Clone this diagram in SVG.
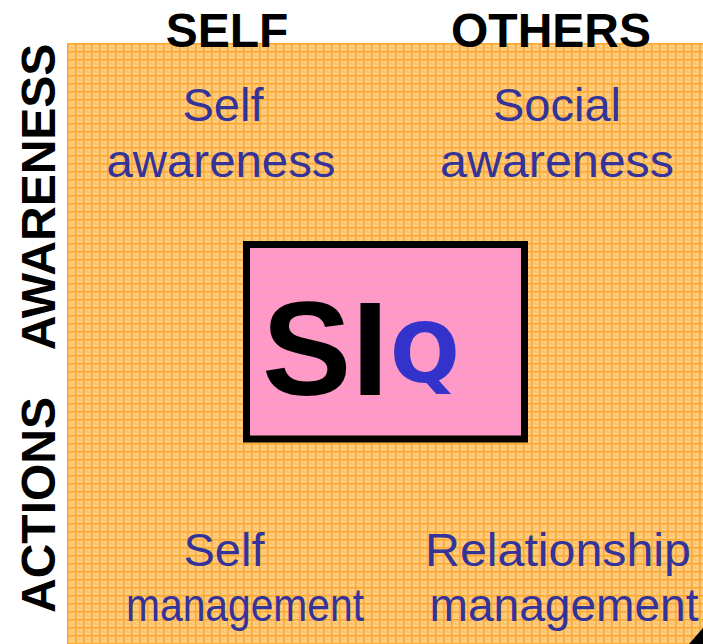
<svg xmlns="http://www.w3.org/2000/svg" width="703" height="644" viewBox="0 0 703 644">
  <defs>
    <!-- woven orange grid used for the quadrant panel -->
    <pattern id="weave" x="67" y="43" width="8" height="8" patternUnits="userSpaceOnUse">
      <rect width="8" height="8" fill="#FFCA78"/>
      <rect x="0" y="0" width="8" height="1.6" fill="#FFA830"/>
      <rect x="0" y="0" width="1.6" height="8" fill="#FFA830"/>
      <rect x="4" y="4" width="1" height="1" fill="#FFB850"/>
      <rect x="5" y="2" width="1" height="1" fill="#FFD898"/>
      <rect x="3" y="6" width="1" height="1" fill="#FFD898"/>
    </pattern>
    <!-- same weave, tinted pink for the centre card -->
    <pattern id="weavePink" x="67" y="43" width="8" height="8" patternUnits="userSpaceOnUse">
      <rect width="8" height="8" fill="#FF99CC"/>
      <rect x="0" y="0" width="8" height="1" fill="#F8A2B0"/>
      <rect x="0" y="0" width="1" height="8" fill="#F8A2B0"/>
    </pattern>
    <style>
      .head { font-family: "Liberation Sans", Arial, sans-serif; font-weight: bold; fill: #000; font-size: 48px; }
      .quad { font-family: "Liberation Sans", Arial, sans-serif; fill: #333399; font-size: 47px; text-anchor: middle; }
    </style>
  </defs>

  <rect width="703" height="644" fill="#FFFFFF"/>

  <!-- quadrant panel -->
  <g id="panel">
    <rect x="67" y="43" width="636" height="601" fill="url(#weave)"/>
    <polygon points="689,644 703,628 703,644" fill="#000"/>
  </g>

  <!-- column and row headings -->
  <g id="heading-self"><text class="head" x="227" y="47" text-anchor="middle">SELF</text></g>
  <g id="heading-others"><text class="head" x="551" y="47" text-anchor="middle">OTHERS</text></g>
  <g id="heading-awareness"><text class="head" font-size="46" transform="translate(55,197) rotate(-90)" text-anchor="middle">AWARENESS</text></g>
  <g id="heading-actions"><text class="head" font-size="47" transform="translate(55,505) rotate(-90)" text-anchor="middle">ACTIONS</text></g>

  <!-- quadrant labels -->
  <g id="self-awareness">
    <text class="quad" x="223" y="121">Self</text>
    <text class="quad" x="221" y="177" textLength="229" lengthAdjust="spacingAndGlyphs">awareness</text>
  </g>
  <g id="social-awareness">
    <text class="quad" x="557" y="121">Social</text>
    <text class="quad" x="557" y="177" textLength="234" lengthAdjust="spacingAndGlyphs">awareness</text>
  </g>
  <g id="self-management">
    <text class="quad" x="224" y="566">Self</text>
    <text class="quad" x="245" y="621" textLength="238" lengthAdjust="spacingAndGlyphs">management</text>
  </g>
  <g id="relationship-management">
    <text class="quad" x="558" y="566" textLength="266" lengthAdjust="spacingAndGlyphs">Relationship</text>
    <text class="quad" x="564" y="621" textLength="269" lengthAdjust="spacingAndGlyphs">management</text>
  </g>

  <!-- centre card -->
  <g id="siq">
    <rect x="246.5" y="244.5" width="278" height="194.5" fill="url(#weavePink)" stroke="#000" stroke-width="7"/>
    <text x="262" y="395" font-family="Liberation Sans, Arial, sans-serif" font-weight="bold" font-size="134" fill="#000">SI</text>
    <text x="390" y="382" font-family="DejaVu Sans, Verdana, sans-serif" font-weight="bold" font-size="82" fill="#3333CC">Q</text>
  </g>
</svg>
